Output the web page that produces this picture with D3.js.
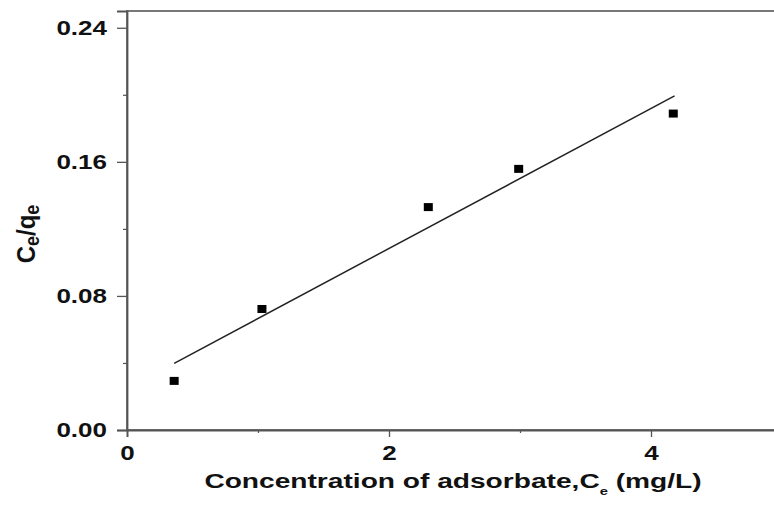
<!DOCTYPE html>
<html><head><meta charset="utf-8">
<script src="https://cdn.jsdelivr.net/npm/d3@7/dist/d3.min.js"></script>
<style>body{margin:0;background:#fff;} svg{display:block;} text{font-family:"Liberation Sans",Arial,sans-serif;font-weight:bold;fill:#111;}</style>
</head><body>
<svg id="c" width="774" height="510"></svg>
<script>
// data
const xValues = [0.36, 1.03, 2.30, 2.99, 4.17];
const yValues = [0.0293, 0.0722, 0.1330, 0.1558, 0.1888];
const fitX = [0.36, 4.18];
const fitY = [0.0398, 0.1994];
const xMajorTicks = [0, 2, 4];
const xMinorTicks = [1, 3];
const yMajorTicks = [0.00, 0.08, 0.16, 0.24];
const yMinorTicks = [0.04, 0.12, 0.20];
const xTitle = "Concentration of adsorbate,C";
const yTitle = ["C", "e", "/q", "e"];

const svg = d3.select("#c");
const L = 127, R = 782, T = 11, B = 430;
const SX = 1.3;
const x = d3.scaleLinear().domain([0, 5]).range([L, R]);
const y = d3.scaleLinear().domain([0, 0.25]).range([B, T]);

// frame
svg.append("rect").attr("x", L).attr("y", T).attr("width", R - L).attr("height", B - T)
  .attr("fill", "none").attr("stroke", "#6a6a6a").attr("stroke-width", 1.8);

// y axis
const yAx = svg.append("g").attr("transform", `translate(${L},0)`)
  .call(d3.axisLeft(y).tickValues(yMajorTicks).tickFormat(d3.format(".2f")).tickSize(10).tickPadding(10));
yAx.select(".domain").attr("stroke", "#555").attr("stroke-width", 1.8);
yAx.selectAll(".tick line").attr("stroke", "#555").attr("stroke-width", 1.3);
yAx.selectAll("text").attr("font-size", 20).attr("fill", "#111").style("font-family", "Liberation Sans").style("font-weight", "bold");
svg.append("g").attr("transform", `translate(${L},0)`)
  .call(d3.axisLeft(y).tickValues(yMinorTicks).tickSize(4).tickFormat(""))
  .call(g => { g.select(".domain").remove(); g.selectAll("line").attr("stroke", "#555").attr("stroke-width", 1.2); });

// x axis
const xAx = svg.append("g").attr("transform", `translate(0,${B})`)
  .call(d3.axisBottom(x).tickValues(xMajorTicks).tickFormat(d3.format("d")).tickSize(7).tickPadding(9));
xAx.select(".domain").attr("stroke", "#555").attr("stroke-width", 1.8);
xAx.selectAll(".tick line").attr("stroke", "#555").attr("stroke-width", 1.3);
xAx.selectAll("text").attr("font-size", 20).attr("fill", "#111").style("font-family", "Liberation Sans").style("font-weight", "bold");
svg.append("g").attr("transform", `translate(0,${B})`)
  .call(d3.axisBottom(x).tickValues(xMinorTicks).tickSize(3).tickFormat(""))
  .call(g => { g.select(".domain").remove(); g.selectAll("line").attr("stroke", "#555").attr("stroke-width", 1.2); });

// stretch tick labels horizontally
svg.selectAll(".tick text").each(function () {
  const w = this.getComputedTextLength();
  if (w > 0) d3.select(this).attr("textLength", w * SX).attr("lengthAdjust", "spacingAndGlyphs");
});

// fit line
const fit = fitX.map((v, i) => [v, fitY[i]]);
svg.append("path").datum(fit)
  .attr("d", d3.line().x(d => x(d[0])).y(d => y(d[1])))
  .attr("fill", "none").attr("stroke", "#222").attr("stroke-width", 1.5);

// points
const pts = xValues.map((v, i) => [v, yValues[i]]);
svg.selectAll("rect.pt").data(pts).enter().append("rect").attr("class", "pt")
  .attr("x", d => x(d[0]) - 4.5).attr("y", d => y(d[1]) - 4)
  .attr("width", 9).attr("height", 8).attr("fill", "#000");

// x title
const xt = svg.append("g").attr("transform", `translate(453,488) scale(1.34,1)`);
const xtt = xt.append("text").attr("text-anchor", "middle").attr("font-size", 21);
xtt.append("tspan").text(xTitle);
xtt.append("tspan").attr("font-size", 11).attr("dy", 7).text("e");
xtt.append("tspan").attr("dy", -7).text(" (mg/L)");

// y title
const yt = svg.append("text").attr("transform", "translate(35,234) scale(1.1,1) rotate(-90)")
  .attr("text-anchor", "middle").attr("font-size", 24);
yt.append("tspan").text(yTitle[0]);
yt.append("tspan").attr("font-size", 18).attr("dy", 4).text(yTitle[1]);
yt.append("tspan").attr("dy", -4).text(yTitle[2]);
yt.append("tspan").attr("font-size", 18).attr("dy", 4).text(yTitle[3]);
</script>
</body></html>
